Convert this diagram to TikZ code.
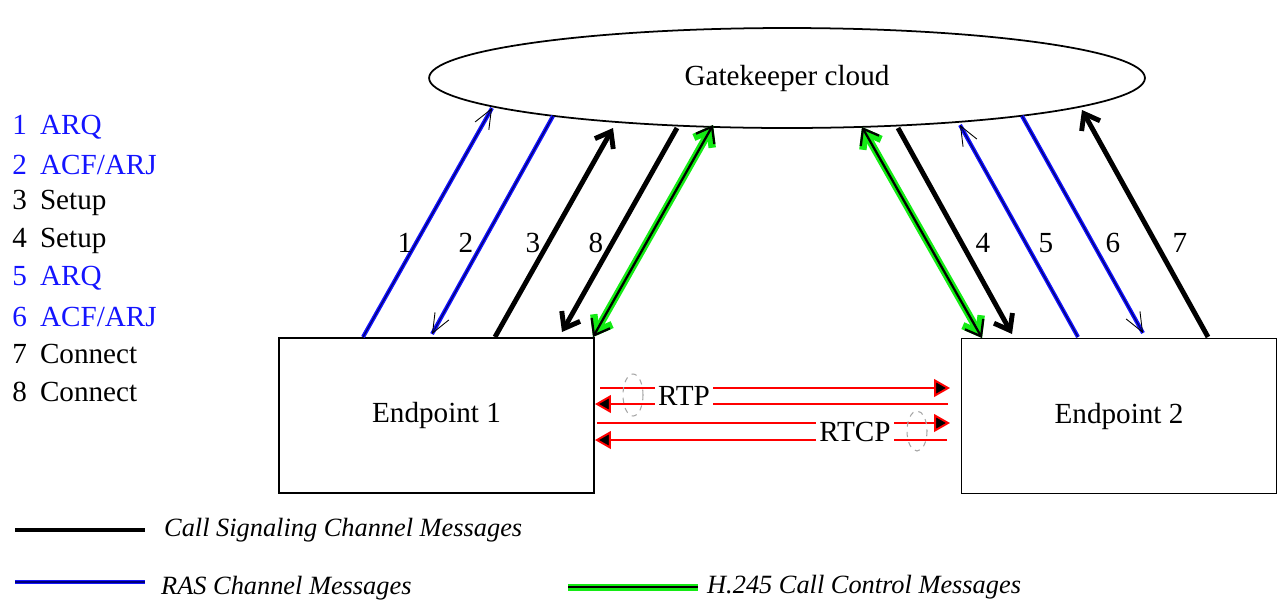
\documentclass[tikz,border=0pt]{standalone}
\usepackage{fontspec}
\setmainfont{Liberation Serif}
\usetikzlibrary{shapes.geometric,arrows.meta}
\definecolor{rasblue}{RGB}{20,20,255}
\definecolor{rasnavy}{RGB}{0,0,120}
\definecolor{hgreen}{RGB}{20,235,20}
\newcommand*{\rasblue}[1]{\textcolor{rasblue}{#1}}

\tikzset{
  sig/.style={line width=2.8pt,-{Straight Barb[length=8pt,width=12pt]}},
  rasline/.style={draw=rasnavy,line width=0.7pt,preaction={draw=rasblue,line width=2.3pt,-}},
  ras/.style={rasline,-{Straight Barb[black,line width=0.5pt,length=11pt,width=9pt]}},
  hline/.style={line width=1.3pt,preaction={draw=hgreen,line width=4pt}},
  hctl/.style={line width=1.3pt,
    preaction={draw=hgreen,line width=4.2pt,
      {Straight Barb[length=8pt,width=12pt]}-{Straight Barb[length=8pt,width=12pt]}},
    {Straight Barb[length=8pt,width=12pt]}-{Straight Barb[length=8pt,width=12pt]}},
  media/.style={draw=red,line width=1.1pt,-{Triangle[length=9pt,width=10pt,fill=black]}},
  endbox/.style={draw,line width=1pt,minimum width=6.3cm,minimum height=3.1cm},
  gap/.style={fill=white,inner xsep=2pt,inner ysep=0pt,minimum height=26pt},
  legtxt/.style={anchor=west,font=\fontsize{15}{18}\selectfont\itshape}
}

\begin{document}
\begin{tikzpicture}[x=0.02cm,y=-0.02cm,font=\fontsize{16.6}{19}\selectfont]
    \useasboundingbox (0,0) rectangle (1280,606);
    % gatekeeper and endpoints
    \node[ellipse,draw,line width=1pt,minimum width=14.32cm,minimum height=2cm,inner sep=0pt]
      (cloud) at (787,78) {Gatekeeper cloud};
    \node[endbox] (ep1) at (436.5,415.5) {Endpoint 1};
    \node[endbox] (ep2) at (1119,416) {Endpoint 2};
    % ends of the message arrows
    \coordinate (t1) at (492,108); \coordinate (b1) at (363,337);
    \coordinate (t2) at (553,116); \coordinate (b2) at (432,334);
    \coordinate (t3) at (613,128); \coordinate (b3) at (495,337);
    \coordinate (t8) at (677,128); \coordinate (b8) at (562,332);
    \coordinate (t4) at (898,128); \coordinate (b4) at (1012,334);
    \coordinate (t5) at (960,125); \coordinate (b5) at (1078,337);
    \coordinate (t6) at (1022,116); \coordinate (b6) at (1143,333);
    \coordinate (t7) at (1082,110); \coordinate (b7) at (1208,337);
    \coordinate (hl1) at (713,125); \coordinate (hl2) at (593,337);
    \coordinate (hr1) at (862,127); \coordinate (hr2) at (982,338);
    \draw[ras](b1)--(t1);
    \draw[ras](t2)--(b2);
    \draw[sig](b3)--(t3);
    \draw[sig](t8)--(b8);
    \draw[sig](t4)--(b4);
    \draw[ras](b5)--(t5);
    \draw[ras](t6)--(b6);
    \draw[sig](b7)--(t7);
    \draw[hctl](hl1)--(hl2);
    \draw[hctl](hr1)--(hr2);
    \foreach \n/\x in {1/405,2/466,3/533,8/596,4/983,5/1046,6/1113,7/1180}
      \node (lbl\n) at (\x,243) {\n};
    % media streams
    \coordinate (rtpa1) at (600,388); \coordinate (rtpa2) at (950,388);
    \coordinate (rtpb1) at (948,404); \coordinate (rtpb2) at (595,404);
    \coordinate (rtca1) at (597,423); \coordinate (rtca2) at (950,423);
    \coordinate (rtcb1) at (947,440); \coordinate (rtcb2) at (595,440);
    \draw[media](rtpa1)--(rtpa2);
    \draw[media](rtpb1)--(rtpb2);
    \draw[media](rtca1)--(rtca2);
    \draw[media](rtcb1)--(rtcb2);
    \node[gap] (rtp) at (684,396) {RTP};
    \node[gap] (rtcp) at (855,432) {RTCP};
    \draw[gray!70,dashed,line width=0.6pt](633,395) ellipse (10 and 21);
    \draw[gray!70,dashed,line width=0.6pt](917,431) ellipse (10 and 20);
    % message list
    \foreach \n/\txt/\col [count=\i from 0] in {1/ARQ/rasblue,2/ACF\slash ARJ/rasblue,3/Setup/black,
        4/Setup/black,5/ARQ/rasblue,6/ACF\slash ARJ/rasblue,7/Connect/black,8/Connect/black}
      \node[anchor=west,inner sep=0pt,text=\col] (msg\n) at (12,127+37.9*\i) {\n\hspace{0.45em}\txt};
    % legend
    \draw[line width=2.8pt](15,530)--(145,530);
    \node[legtxt] (legsig) at (158,530) {Call Signaling Channel Messages};
    \draw[rasline](15,582)--(145,582);
    \node[legtxt] (legras) at (155,588) {RAS Channel Messages};
    \draw[hline](568,587)--(698,587);
    \node[legtxt] (legh) at (701,587) {H.245 Call Control Messages};
  \end{tikzpicture}
\end{document}
